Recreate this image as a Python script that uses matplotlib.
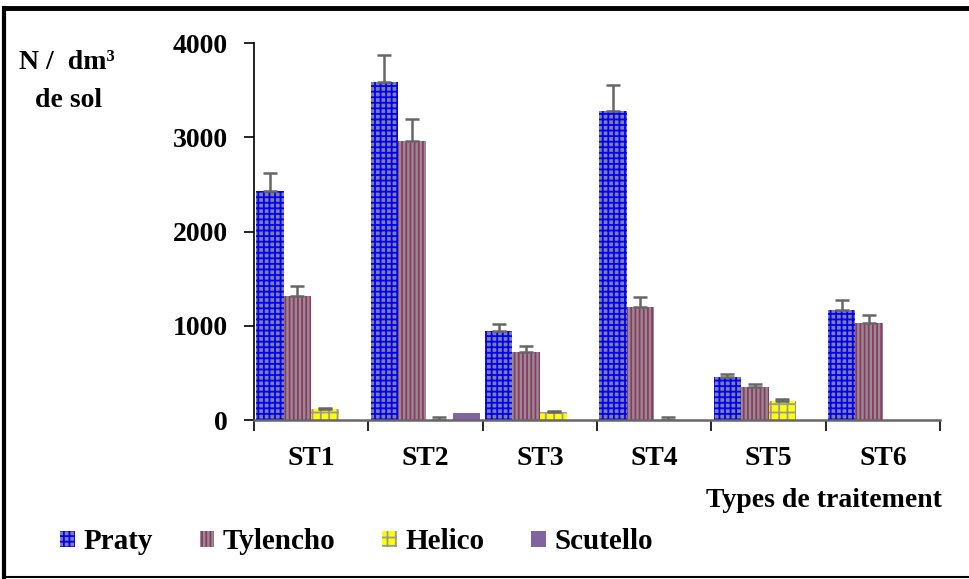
import matplotlib.pyplot as plt
import numpy as np

plt.rcParams['font.family'] = ['Liberation Serif', 'DejaVu Serif']
plt.rcParams['font.weight'] = 'bold'
plt.rcParams['hatch.linewidth'] = 1.3

# Data
categories = ['ST1', 'ST2', 'ST3', 'ST4', 'ST5', 'ST6']
series = ['Praty', 'Tylencho', 'Helico', 'Scutello']
praty = [2430, 3583, 944, 3278, 460, 1167]
praty_err = [195, 293, 71, 273, 32, 110]
tylencho = [1319, 2964, 721, 1202, 354, 1029]
tylencho_err = [106, 233, 68, 106, 32, 85]
helico = [117, 5, 84, 5, 202, 0]
helico_err = [8, 30, 10, 30, 17, 0]
scutello = [0, 71, 0, 0, 0, 0]
scutello_err = [0, 0, 0, 0, 0, 0]

values = [praty, tylencho, helico, scutello]
errors = [praty_err, tylencho_err, helico_err, scutello_err]
styles = [
    dict(color='#80809a', edgecolor='#0000ff', hatch='+++'),
    dict(color='#8f8f8f', edgecolor='#993366', hatch='||||'),
    dict(color='#ffff00', edgecolor='#9a9a9a', hatch='++'),
    dict(color='#8064a2', edgecolor='#8064a2', hatch=None),
]

fig = plt.figure(figsize=(9.7, 5.79), dpi=100)
ax = fig.add_axes([0.2619, 0.2746, 0.7072, 0.651])

x = np.arange(len(categories))
width = 0.24
offsets = [-0.36, -0.12, 0.12, 0.36]
for vals, errs, st, off, name in zip(values, errors, styles, offsets, series):
    ax.bar(x + off, vals, width, label=name, linewidth=0, **st)
    errs = np.array(errs)
    mask = errs > 0
    ax.errorbar((x + off)[mask], np.array(vals)[mask],
                yerr=[np.zeros(mask.sum()), errs[mask]],
                fmt='none', ecolor='#666666', elinewidth=1.8,
                capsize=5, capthick=1.8)

ax.set_xlim(-0.5, len(categories) - 0.5)
ax.set_ylim(0, 4000)
ax.set_yticks([0, 1000, 2000, 3000, 4000])
ax.set_yticklabels(['0', '1000', '2000', '3000', '4000'],
                   fontsize=20, fontweight='bold')
ax.set_xticks(x)
ax.set_xticklabels(categories, fontsize=20, fontweight='bold')
ax.set_xticks(np.arange(-0.5, len(categories)), minor=True)
ax.tick_params(axis='x', which='major', length=0, pad=19)
ax.tick_params(axis='x', which='minor', length=8, width=1.2, direction='out')
ax.tick_params(axis='y', length=7, width=1.2, pad=12)

for s in ['top', 'right']:
    ax.spines[s].set_visible(False)
ax.spines['left'].set_linewidth(1.2)
ax.spines['bottom'].set_linewidth(1.8)
ax.spines['bottom'].set_color('#666666')

fig.text(0.02, 0.88, 'N /  dm³', fontsize=20, fontweight='bold')
fig.text(0.036, 0.815, 'de sol', fontsize=20, fontweight='bold')
fig.text(0.971, 0.125, 'Types de traitement', fontsize=20,
         fontweight='bold', ha='right')

fig.legend(loc='center left', bbox_to_anchor=(0.035, 0.064), ncol=4,
           frameon=False, fontsize=21, handlelength=0.5, handleheight=0.5,
           handletextpad=0.3, columnspacing=1.6)

# outer frame: thick top and left, thin bottom
for xs, ys, lw in [((0.004, 1.0), (0.987, 0.987), 3.5),
                   ((0.004, 0.004), (0.003, 0.987), 3.0),
                   ((0.004, 1.0), (0.003, 0.003), 1.5)]:
    fig.add_artist(plt.Line2D(xs, ys, transform=fig.transFigure,
                              color='black', linewidth=lw))

fig.savefig('out.png', dpi=100)
